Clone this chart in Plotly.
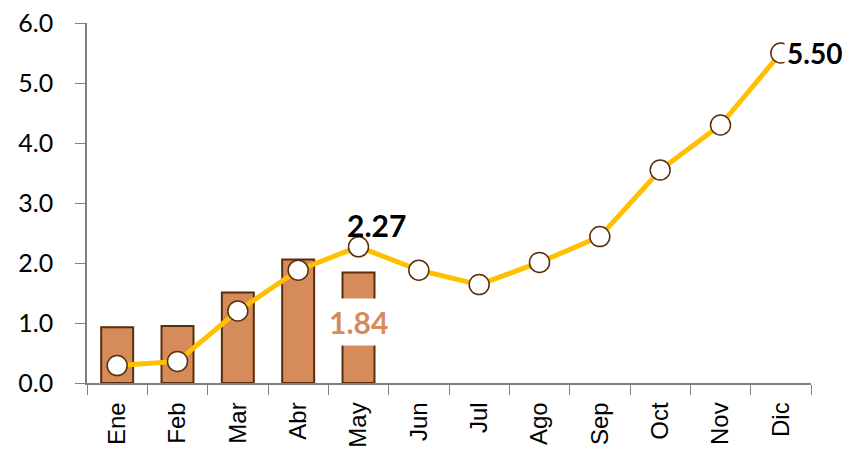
import plotly.graph_objects as go

# monthly data
months = ["Ene", "Feb", "Mar", "Abr", "May", "Jun", "Jul", "Ago", "Sep", "Oct", "Nov", "Dic"]
bar_months = ["Ene", "Feb", "Mar", "Abr", "May"]
bar_values = [0.93, 0.95, 1.51, 2.06, 1.84]
line_values = [0.29, 0.36, 1.20, 1.88, 2.27, 1.88, 1.64, 2.01, 2.44, 3.55, 4.30, 5.50]
y_ticks = [0, 1, 2, 3, 4, 5, 6]

BAR_FILL = "#D58B5A"
BAR_EDGE = "#5A2D0C"
LINE_GOLD = "#FFC000"
FONT = "Lato, 'Open Sans', sans-serif"
XFONT = "'Liberation Sans', Arial, sans-serif"

fig = go.Figure()

fig.add_trace(go.Bar(
    x=bar_months, y=bar_values,
    width=0.53,
    marker=dict(color=BAR_FILL, line=dict(color=BAR_EDGE, width=2)),
    showlegend=False, hoverinfo="skip",
))

fig.add_trace(go.Scatter(
    x=months, y=line_values,
    mode="lines+markers",
    line=dict(color=LINE_GOLD, width=5),
    marker=dict(size=20, color="white", line=dict(color=BAR_EDGE, width=1.5)),
    showlegend=False, hoverinfo="skip",
    cliponaxis=False,
))

# data labels
fig.add_annotation(x="May", y=line_values[4], text="<b>2.27</b>", showarrow=False,
                   xshift=18, yshift=22, font=dict(size=30, color="black", family=FONT))
fig.add_annotation(x="Dic", y=line_values[-1], text="<b>5.50</b>", showarrow=False,
                   xanchor="left", xshift=3, bgcolor="white", borderpad=2,
                   font=dict(size=28, color="black", family=FONT))
fig.add_annotation(x="May", y=1.02, text="<b>1.84</b>", showarrow=False,
                   bgcolor="white", borderpad=5,
                   font=dict(size=30, color=BAR_FILL, family=FONT))

fig.update_layout(
    width=852, height=459,
    margin=dict(l=79, r=49, t=15, b=84),
    paper_bgcolor="white", plot_bgcolor="white",
    font=dict(family=FONT, color="black", size=25),
    bargap=0.47,
)

fig.update_xaxes(
    type="category", categoryorder="array", categoryarray=months,
    range=[-0.5, len(months) - 0.5], automargin=False,
    tickson="boundaries", ticks="outside", ticklen=10, tickcolor="#808080",
    showline=True, linecolor="#808080", linewidth=1.5, ticklabelstandoff=8,
    tickangle=-90, tickfont=dict(size=24, family=XFONT), showgrid=False,
)
fig.update_yaxes(
    range=[0, 6], tickvals=y_ticks, tickformat=".1f", automargin=False,
    ticklabeloverflow="allow",
    ticks="outside", ticklen=10, tickcolor="#808080", ticklabelstandoff=17,
    showline=True, linecolor="#808080", linewidth=1.5,
    showgrid=False, zeroline=False, tickfont=dict(size=25),
)

fig.write_html("out.html")
